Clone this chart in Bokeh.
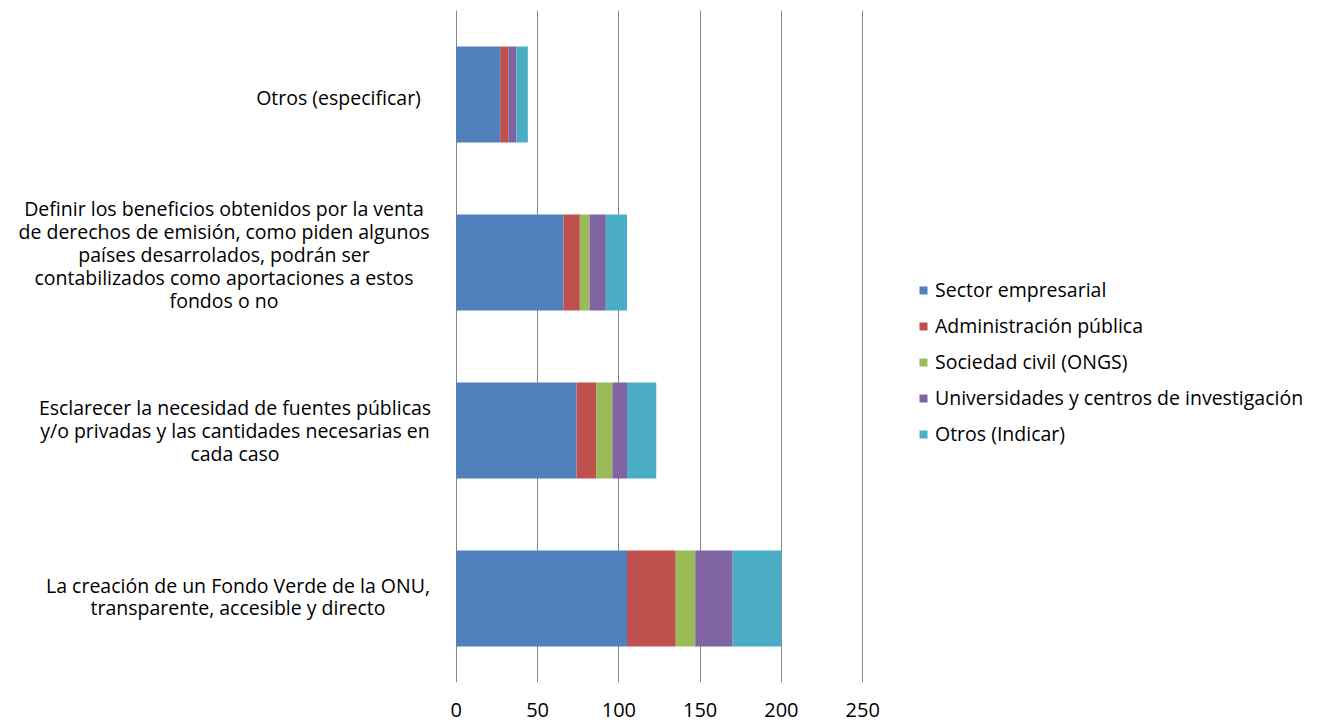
from bokeh.plotting import figure
from bokeh.models import FactorRange, Range1d, FixedTicker, Legend, LegendItem, ColumnDataSource
from bokeh.layouts import row
from bokeh.core.properties import value
from bokeh.embed import file_html
from bokeh.resources import INLINE

categories = [
    "La creación de un Fondo Verde de la ONU,\ntransparente, accesible y directo",
    "Esclarecer la necesidad de fuentes públicas\ny/o privadas y las cantidades necesarias en\ncada caso",
    "Definir los beneficios obtenidos por la venta\nde derechos de emisión, como piden algunos\npaíses desarrolados, podrán ser\ncontabilizados como aportaciones a estos\nfondos o no",
    "Otros (especificar)",
]
series_names = [
    "Sector empresarial",
    "Administración pública",
    "Sociedad civil (ONGS)",
    "Universidades y centros de investigación",
    "Otros (Indicar)",
]
sector_empresarial = [105, 74, 66, 27]
administracion_publica = [30, 12, 10, 5]
sociedad_civil = [12, 10, 6, 0]
universidades = [23, 9, 10, 5]
otros_indicar = [30, 18, 13, 7]
x_ticks = [0, 50, 100, 150, 200, 250]

colors = ["#4F81BD", "#C0504D", "#9BBB59", "#8064A2", "#4BACC6"]
keys = ["s1", "s2", "s3", "s4", "s5"]
data = dict(cat=categories, s1=sector_empresarial, s2=administracion_publica,
            s3=sociedad_civil, s4=universidades, s5=otros_indicar)

FONT = "Open Sans"
TEXT_SIZE = "19.5px"
TOP, BOTTOM = 10, 44
FRAME_H = 672
LABEL_W = 444

y_range = FactorRange(*categories, range_padding=0)

# ---- category label panel (centered multi-line labels) ----
# horizontal centre / vertical nudge of each label block, in pixels (layout only)
label_centres = [237.5, 234.5, 223.5, 338]
label_nudges = [-2, 0, -8, 3]
lab = figure(width=LABEL_W, height=TOP + FRAME_H + BOTTOM, output_backend="svg",
             toolbar_location=None, y_range=y_range, x_range=Range1d(0, LABEL_W),
             min_border_left=0, min_border_right=0, min_border_top=TOP,
             min_border_bottom=BOTTOM)
lab.axis.visible = False
lab.grid.visible = False
lab.outline_line_color = None
lab.text(x=label_centres, y=categories, text=categories, y_offset=label_nudges,
         text_font=value(FONT), text_font_size=TEXT_SIZE, text_color="#000000",
         text_align="center", text_baseline="middle", text_line_height=0.845)

# ---- main chart ----
p = figure(frame_width=408, frame_height=FRAME_H, output_backend="svg", toolbar_location=None,
           y_range=y_range, x_range=Range1d(-0.5, 250.5),
           min_border_left=11, min_border_right=0, min_border_top=TOP,
           min_border_bottom=BOTTOM)
p.outline_line_color = None

renderers = p.hbar_stack(keys, y="cat", height=0.57, color=colors, line_color=None,
                         source=ColumnDataSource(data))

p.yaxis.visible = False
p.ygrid.grid_line_color = None
p.xgrid.grid_line_color = "#868686"
p.xgrid.grid_line_width = 1
p.xaxis.ticker = FixedTicker(ticks=x_ticks)
p.xgrid.ticker = FixedTicker(ticks=x_ticks)
p.xaxis.axis_line_color = None
p.xaxis.major_tick_line_color = None
p.xaxis.minor_tick_line_color = None
p.xaxis.major_label_standoff = 14
p.xaxis.major_label_text_font = FONT
p.xaxis.major_label_text_font_size = "20px"
p.xaxis.major_label_text_color = "#000000"

items = [LegendItem(label=n, renderers=[r]) for n, r in zip(series_names, renderers)]
legend = Legend(items=items, location=(55, 235))
legend.label_text_font = FONT
legend.label_text_font_size = TEXT_SIZE
legend.label_text_color = "#000000"
legend.glyph_width = 10
legend.glyph_height = 10
legend.label_height = 20
legend.spacing = 9
legend.label_standoff = 7
legend.padding = 0
legend.margin = 0
legend.border_line_color = None
legend.background_fill_alpha = 0
p.add_layout(legend, "right")

layout = row(lab, p)
open("out.html", "w").write(file_html(layout, INLINE))
